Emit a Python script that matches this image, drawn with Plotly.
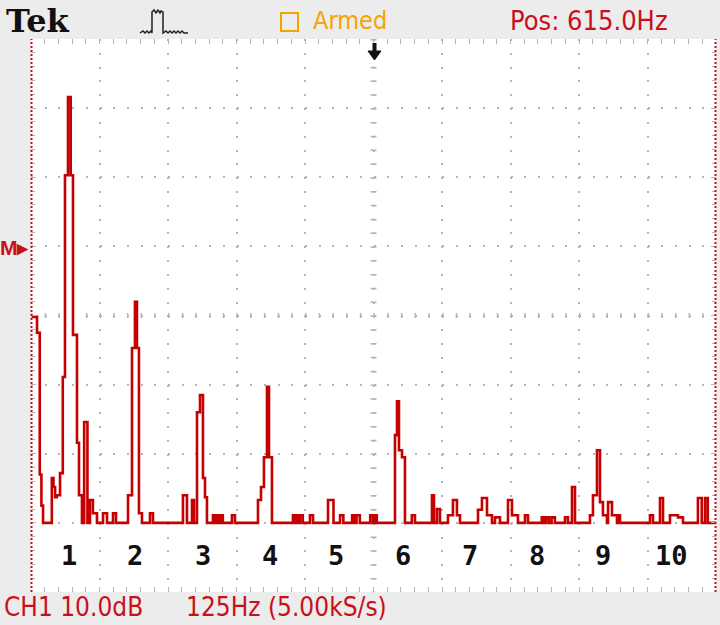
import plotly.graph_objects as go

# FFT trace: start frequency of each step (Hz) and its level (dB)
freq_hz = [-8, 1, 6, 9, 12, 28, 31, 34, 37, 43, 48, 52, 57.5, 62.4, 66.6, 73.9, 77.6, 83, 87, 93,
           97.6, 103, 110.4, 121.4, 128.7, 139.6, 145.1, 167, 174.3, 179.7, 183.4, 187, 192.5,
           207.1, 212.6, 267.3, 274.6, 283.8, 287.4, 292.9, 298.4, 303.8, 307.5, 311.1, 322, 326,
           329, 333, 336, 340, 356.7, 362.2, 404.2, 409.7, 415.1, 420.6, 424.3, 429.7, 468, 471,
           474, 478, 481, 486, 499, 504.6, 532, 542, 554, 560, 576, 580, 584, 590, 609, 614, 617,
           621, 654.2, 657.9, 661.5, 667, 672.4, 685, 690.7, 721.7, 725.4, 730.8, 736.3, 750.9,
           760, 767.3, 772.8, 805.7, 812.9, 822.1, 831.2, 836.7, 845.8, 860.4, 867.7, 878.6,
           891.4, 896.9, 922, 926, 930, 935, 940, 946, 964.4, 969.9, 977.2, 982.7, 1010, 1015.5,
           1022.8, 1028.3, 1033.7, 1041, 1043, 1050.2, 1059.3, 1061, 1064.8, 1119.5, 1125,
           1137.8, 1143.3, 1156, 1170.6, 1179.7, 1207, 1214, 1220, 1225, 1240]
level_db = [-40.2, -42.5, -63.0, -67.5, -70, -63.5, -64.8, -66.3, -66.0, -62.8, -48.9, -19.7, -8.4,
            -19.7, -42.8, -58.4, -66.0, -70, -55.4, -70, -66.7, -68.6, -70, -68.6, -70, -68.6, -70,
            -66.0, -44.7, -38.0, -44.7, -68.6, -70, -68.6, -70, -66.0, -70, -66.7, -70, -54.0,
            -51.5, -63.5, -66.3, -70, -68.9, -70, -68.9, -70, -68.9, -70, -68.9, -70, -66.7, -64.8,
            -60.5, -50.3, -60.5, -70, -68.9, -70, -68.9, -70, -68.9, -70, -68.9, -70, -66.7, -70,
            -68.9, -70, -68.9, -70, -68.9, -70, -68.9, -70, -68.9, -70, -57.3, -52.4, -59.5, -60.5,
            -70, -68.9, -70, -66.0, -70, -68.0, -70, -68.9, -66.7, -68.9, -70, -68.1, -66.4, -68.9,
            -70, -69.2, -70, -66.7, -68.9, -70, -68.9, -70, -69.2, -70, -69.2, -70, -69.2, -70,
            -69.2, -70, -64.8, -70, -68.9, -66.0, -59.5, -67.0, -68.9, -70, -67.0, -68.9, -70,
            -68.9, -70, -68.9, -70, -66.4, -70, -68.9, -69.2, -70, -66.4, -70, -66.4, -70, -70]

harmonic_labels = ["1", "2", "3", "4", "5", "6", "7", "8", "9", "10"]
harmonic_hz = [60, 180, 303, 426, 546, 669, 791, 913, 1034, 1158]

center_hz = 615.0
span_per_div = 125.0
x_range = [center_hz - 5 * span_per_div, center_hz + 5 * span_per_div]
y_range = [-80, 0]

RED = "#c8101a"
TRACE = "#c40000"
GRID = "#b4b4b4"
BG = "#ececec"

W, H = 720, 625
ML, MR, MT, MB = 31, 4, 39, 33
PW, PH = W - ML - MR, H - MT - MB


def px(x):
    return (x - ML) / PW


def py(y):
    return (H - MB - y) / PH


def poly(pts, close=False):
    s = "M " + " L ".join(f"{px(a):.5f},{py(b):.5f}" for a, b in pts)
    return s + (" Z" if close else "")


fig = go.Figure()
fig.add_trace(go.Scatter(x=freq_hz, y=level_db, mode="lines", line_shape="hv",
                         line=dict(color=TRACE, width=2.6), hoverinfo="skip"))

for lab, f in zip(harmonic_labels, harmonic_hz):
    fig.add_annotation(x=f, y=-74.7, text=lab, showarrow=False,
                       font=dict(family="DejaVu Sans Mono", size=27, color="#111111", weight="bold"))

# graticule edges and centre lines
for edge in (31.5, 715.5):
    fig.add_shape(type="line", xref="paper", yref="paper", x0=px(edge), x1=px(edge), y0=0, y1=1,
                  line=dict(color=RED, width=2, dash="2px,2px"))
fig.add_shape(type="line", xref="x", yref="y", x0=center_hz, x1=center_hz, y0=0, y1=-80,
              line=dict(color=GRID, width=6, dash="1.5px,12.32px"), layer="below")
fig.add_shape(type="line", xref="x", yref="y", x0=x_range[0], x1=x_range[1], y0=-40, y1=-40,
              line=dict(color=GRID, width=5, dash="1.5px,12.2px"), layer="below")

# pulse icon
pts = [(140, 33), (143, 31), (145, 33), (147, 31), (149, 33), (151, 31), (152, 33), (152, 12),
       (154, 10), (156, 13), (158, 10), (160, 13), (161, 11), (163, 12), (163, 33), (166, 31),
       (168, 33), (170, 31), (172, 33), (174, 31), (176, 33), (178, 31), (180, 33), (182, 31),
       (184, 33), (188, 33)]
fig.add_shape(type="path", xref="paper", yref="paper", path=poly(pts),
              line=dict(color="#222222", width=1.5))

# trigger position arrow
fig.add_shape(type="line", xref="paper", yref="paper", x0=px(374.5), x1=px(374.5), y0=py(43), y1=py(52),
              line=dict(color="#111111", width=4))
fig.add_shape(type="path", xref="paper", yref="paper",
              path=poly([(368, 51), (381, 51), (374.5, 60)], close=True),
              line=dict(color="#111111", width=1), fillcolor="#111111")

# armed square
fig.add_shape(type="rect", xref="paper", yref="paper", x0=px(281), x1=px(298), y0=py(31), y1=py(13),
              line=dict(color="#f5a300", width=2))

top_font = "Liberation Sans Narrow, DejaVu Sans Condensed, Liberation Sans"
fig.add_annotation(xref="paper", yref="paper", x=px(4), y=py(21), xanchor="left", yanchor="middle",
                   text="Tek", showarrow=False,
                   font=dict(family="DejaVu Serif", size=32, color="#111111", weight="bold"))
fig.add_annotation(xref="paper", yref="paper", x=px(311), y=py(21), xanchor="left", yanchor="middle",
                   text="Armed", showarrow=False, font=dict(family=top_font, size=25, color="#f5a300"))
fig.add_annotation(xref="paper", yref="paper", x=px(508), y=py(20), xanchor="left", yanchor="middle",
                   text="Pos: 615.0Hz", showarrow=False, font=dict(family=top_font, size=27, color=RED))
fig.add_annotation(xref="paper", yref="paper", x=px(2), y=py(607), xanchor="left", yanchor="middle",
                   text="CH1 10.0dB", showarrow=False, font=dict(family=top_font, size=26, color=RED))
fig.add_annotation(xref="paper", yref="paper", x=px(184), y=py(607), xanchor="left", yanchor="middle",
                   text="125Hz (5.00kS/s)", showarrow=False, font=dict(family=top_font, size=26, color=RED))
fig.add_annotation(xref="paper", yref="y", x=px(31), y=-30.1, xanchor="right", yanchor="middle",
                   text="<b>M▸</b>", showarrow=False, font=dict(family="Liberation Sans", size=21, color=RED))

fig.update_xaxes(range=x_range, tick0=x_range[0], dtick=span_per_div, showticklabels=False,
                 showgrid=True, gridcolor=GRID, gridwidth=2, griddash="2px,11.82px",
                 zeroline=False, showline=False, ticks="inside", ticklen=5, tickcolor=GRID,
                 mirror="ticks",
                 minor=dict(dtick=span_per_div / 5, tick0=x_range[0], ticks="inside", ticklen=5,
                            tickcolor=GRID, showgrid=False))
fig.update_yaxes(range=y_range, dtick=10, showticklabels=False,
                 showgrid=True, gridcolor=GRID, gridwidth=2, griddash="2px,11.7px",
                 zeroline=False, showline=False, ticks="inside", ticklen=5, tickcolor=GRID,
                 mirror="ticks",
                 minor=dict(dtick=2, ticks="inside", ticklen=4, tickcolor=GRID, showgrid=False))

fig.update_layout(width=W, height=H, margin=dict(l=ML, r=MR, t=MT, b=MB),
                  paper_bgcolor=BG, plot_bgcolor="white", showlegend=False)

fig.write_html("out.html", config={"displayModeBar": False},
               post_script="document.body.style.margin='0';")
